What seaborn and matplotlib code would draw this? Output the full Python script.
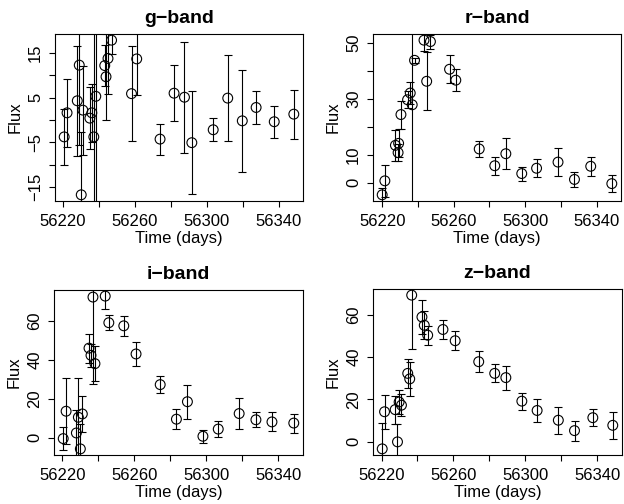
import numpy as np
import pandas as pd
import matplotlib
matplotlib.use("Agg")
import matplotlib.pyplot as plt
import seaborn as sns

# g-band
g_time = [56220.6, 56222.2, 56227.9, 56229.0, 56230.1, 56231.0, 56234.9, 56236.0, 56237.1,
          56238.2, 56243.2, 56243.9, 56245.0, 56247.0, 56258.1, 56261.0, 56274.0, 56281.8,
          56287.6, 56291.7, 56303.6, 56311.7, 56319.8, 56327.5, 56337.6, 56348.5]
g_flux = [-3.8, 1.6, 4.3, 12.3, -16.8, 2.2, 0.4, 1.6, -3.8, 5.3, 12.2, 9.7, 13.8, 17.9,
          5.9, 13.7, -4.3, 6.0, 5.1, -5.1, -2.2, 4.9, -0.2, 2.8, -0.4, 1.3]
g_err = [6.3, 7.6, 12.3, 18.0, 14.0, 10.0, 7.0, 6.5, 60.0, 60.0, 4.6, 9.6, 8.0, 3.1,
         10.6, 8.0, 3.5, 6.3, 12.5, 11.5, 2.6, 9.7, 11.4, 3.7, 3.6, 5.5]

# r-band
r_time = [56220.0, 56221.5, 56227.4, 56228.9, 56229.2, 56230.5, 56234.2, 56235.7, 56236.8,
          56238.1, 56243.4, 56244.9, 56247.0, 56257.7, 56261.2, 56274.3, 56283.0, 56289.2,
          56298.1, 56306.4, 56318.4, 56327.6, 56336.7, 56348.5]
r_flux = [-4.4, 0.6, 13.3, 10.7, 14.0, 24.3, 29.6, 32.0, 27.8, 43.7, 50.9, 36.2, 50.4,
          40.5, 36.6, 12.0, 6.0, 10.3, 3.2, 5.1, 7.3, 1.1, 5.8, -0.4]
r_err = [2.5, 5.7, 5.5, 3.0, 5.0, 5.0, 3.0, 4.0, 100.0, 1.0, 4.0, 10.3, 2.5,
         5.0, 4.0, 2.8, 3.3, 5.5, 2.5, 3.3, 5.0, 2.8, 3.5, 3.0]

# i-band
i_time = [56220.6, 56222.2, 56227.9, 56229.0, 56230.1, 56231.2, 56234.9, 56236.0, 56237.1,
          56238.2, 56243.9, 56245.9, 56254.2, 56261.0, 56274.4, 56283.4, 56289.5, 56298.1,
          56306.6, 56318.2, 56327.5, 56336.4, 56348.5]
i_flux = [-0.5, 13.6, 2.4, 10.5, -5.8, 12.2, 46.1, 42.4, 72.4, 38.1, 72.9, 59.2, 57.6,
          43.1, 27.3, 9.5, 18.5, 0.7, 4.4, 12.4, 9.2, 8.1, 7.5]
i_err = [5.8, 17.0, 12.0, 20.0, 13.0, 9.5, 7.4, 6.0, 45.0, 9.0, 6.5, 4.0, 5.0,
         6.0, 4.4, 5.1, 8.7, 3.4, 4.2, 7.9, 3.8, 4.9, 4.9]

# z-band
z_time = [56220.4, 56221.7, 56227.6, 56228.9, 56229.8, 56231.1, 56234.6, 56235.7, 56236.8,
          56242.5, 56243.8, 56245.7, 56254.2, 56261.0, 56274.1, 56283.0, 56289.2, 56298.1,
          56306.6, 56318.4, 56327.4, 56337.6, 56348.7]
z_flux = [-3.3, 14.2, 15.2, 0.0, 18.8, 17.3, 32.3, 29.7, 69.2, 58.9, 55.0, 50.3, 53.0,
          47.7, 37.8, 32.3, 30.3, 19.2, 14.8, 10.2, 5.3, 11.4, 7.8]
z_err = [12.4, 8.0, 6.6, 8.6, 5.5, 5.3, 6.9, 8.0, 25.6, 8.0, 6.5, 4.4, 4.6,
         4.5, 5.0, 4.2, 5.7, 4.0, 5.4, 6.3, 4.7, 3.9, 6.5]

# tick values that get a label (R drops the ones that would overlap)
g_labelled = [-15, -5, 5, 15]
r_labelled = [0, 10, 30, 50]

bands = {
    "g": (g_time, g_flux, g_err, 5, g_labelled),
    "r": (r_time, r_flux, r_err, 10, r_labelled),
    "i": (i_time, i_flux, i_err, 20, None),
    "z": (z_time, z_flux, z_err, 20, None),
}

sns.set_style("ticks")
plt.rcParams["font.family"] = ["Liberation Sans", "DejaVu Sans"]
plt.rcParams["axes.linewidth"] = 0.8
plt.rcParams["axes.labelcolor"] = "black"
plt.rcParams["text.color"] = "black"

fig = plt.figure(figsize=(6.24, 5.04), dpi=100)
boxes = {
    "g": [55 / 624, 1 - 201 / 504, 248 / 624, 167 / 504],
    "r": [373 / 624, 1 - 201 / 504, 248 / 624, 167 / 504],
    "i": [54 / 624, 1 - 455 / 504, 249 / 624, 165 / 504],
    "z": [373 / 624, 1 - 455 / 504, 249 / 624, 166 / 504],
}

for band, (t, f, e, ystep, shown) in bands.items():
    ax = fig.add_axes(boxes[band])
    df = pd.DataFrame({"time": t, "flux": f, "err": e})
    ax.errorbar(df["time"], df["flux"], yerr=df["err"], fmt="none", ecolor="black",
                elinewidth=0.8, capsize=3.2, capthick=0.8, zorder=2)
    sns.scatterplot(data=df, x="time", y="flux", ax=ax, marker="o", s=50,
                    facecolor="none", edgecolor="black", linewidth=0.8, zorder=3)
    # R-style 4% padding on the data range
    x0, x1 = df["time"].min(), df["time"].max()
    y0, y1 = df["flux"].min(), df["flux"].max()
    ax.set_xlim(x0 - 0.04 * (x1 - x0), x1 + 0.04 * (x1 - x0))
    ax.set_ylim(y0 - 0.04 * (y1 - y0), y1 + 0.04 * (y1 - y0))
    xt = list(range(56220, 56341, 20))
    ax.set_xticks(xt)
    ax.set_xticklabels([str(v) if (v - 56220) % 40 == 0 else "" for v in xt])
    yt = [int(v) for v in np.arange(np.ceil(y0 / ystep) * ystep, y1 + 0.01, ystep)]
    ax.set_yticks(yt)
    ylabs = []
    for v in yt:
        if shown is not None and v not in shown:
            ylabs.append("")
        else:
            ylabs.append(("\u2212" + str(-v)) if v < 0 else str(v))
    ax.set_yticklabels(ylabs, rotation=90, va="center")
    ax.tick_params(direction="out", length=4.5, width=0.8, labelsize=12, colors="black")
    ax.tick_params(axis="x", pad=5)
    ax.tick_params(axis="y", pad=4)
    ax.set_xlabel("Time (days)", fontsize=12, labelpad=1)
    ax.set_ylabel("Flux", fontsize=12, labelpad=4)
    ax.set_title(band + "\u2212band", fontsize=14, fontweight="bold", pad=8)
    for sp in ax.spines.values():
        sp.set_visible(True)
        sp.set_color("black")

fig.savefig("out.png", dpi=100)
